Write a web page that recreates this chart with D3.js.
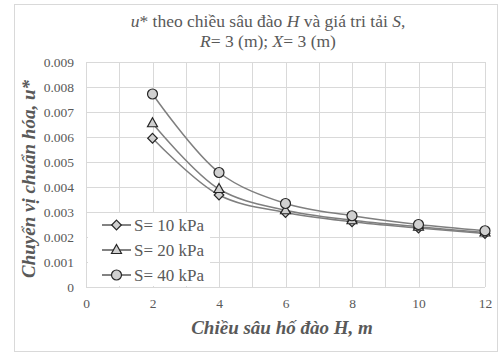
<!DOCTYPE html>
<html>
<head>
<meta charset="utf-8">
<script src="https://cdn.jsdelivr.net/npm/d3@7/dist/d3.min.js"></script>
</head>
<body style="margin:0;padding:0;background:#fff">
<svg id="chart" width="500" height="361" style="display:block"></svg>
<script>
// Excavation depth H (m)
const depths = [2, 4, 6, 8, 10, 12];
// Normalised displacement u* for each surcharge S
const s10 = [0.00595, 0.00368, 0.00298, 0.00261, 0.00236, 0.00214];
const s20 = [0.00655, 0.00392, 0.00307, 0.00267, 0.00241, 0.00218];
const s40 = [0.00772, 0.00458, 0.00334, 0.00285, 0.00250, 0.00225];
const seriesNames = ["S= 10 kPa", "S= 20 kPa", "S= 40 kPa"];
const seriesMarkers = ["diamond", "triangle", "circle"];
const xTicks = [0, 2, 4, 6, 8, 10, 12];
const yTicks = [0, 0.001, 0.002, 0.003, 0.004, 0.005, 0.006, 0.007, 0.008, 0.009];

const FONT = '"Liberation Serif", "Times New Roman"';

const series = [s10, s20, s40].map((vals, i) => ({
  name: seriesNames[i],
  marker: seriesMarkers[i],
  points: depths.map((d, j) => ({ x: d, y: vals[j] }))
}));

const svg = d3.select("#chart");
const plot = { left: 86, right: 485, top: 62, bottom: 287 };

const x = d3.scaleLinear().domain([0, 12]).range([plot.left, plot.right]);
const y = d3.scaleLinear().domain([0, 0.009]).range([plot.bottom, plot.top]);

const textGray = "#595959";
const gridGray = "#d9d9d9";

// Chart area frame
svg.append("rect")
  .attr("x", 14.5).attr("y", 4.5)
  .attr("width", 483).attr("height", 347)
  .attr("fill", "#fff").attr("stroke", "#d9d9d9").attr("stroke-width", 1);

// Gridlines: vertical every 1 m, horizontal at each y tick
const g = svg.append("g");
g.selectAll("line.vg")
  .data(d3.range(0, 13))
  .join("line")
  .attr("x1", d => Math.round(x(d)) + 0.5).attr("x2", d => Math.round(x(d)) + 0.5)
  .attr("y1", plot.top).attr("y2", plot.bottom)
  .attr("stroke", gridGray).attr("stroke-width", 1);
g.selectAll("line.hg")
  .data(yTicks)
  .join("line")
  .attr("x1", plot.left).attr("x2", plot.right)
  .attr("y1", d => Math.round(y(d)) + 0.5).attr("y2", d => Math.round(y(d)) + 0.5)
  .attr("stroke", gridGray).attr("stroke-width", 1);

// Axes (labels only)
const xAxis = d3.axisBottom(x).tickValues(xTicks).tickSize(0).tickPadding(11);
const yAxis = d3.axisLeft(y).tickValues(yTicks).tickSize(0).tickPadding(10)
  .tickFormat(d => d === 0 ? "0" : d3.format(".3f")(d));

const gx = svg.append("g").attr("transform", `translate(0,${plot.bottom})`).call(xAxis);
const gy = svg.append("g").attr("transform", `translate(${plot.left - 2},0)`).call(yAxis);
[gx, gy].forEach(a => {
  a.attr("font-family", null).attr("font-size", null);
  a.select(".domain").remove();
  a.selectAll("text")
    .attr("fill", textGray)
    .attr("font-size", 13.5)
    .style("font-family", FONT);
});

// Series lines
const line = d3.line()
  .x(d => x(d.x)).y(d => y(d.y))
  .curve(d3.curveCatmullRom.alpha(0.5));

svg.append("g").selectAll("path")
  .data(series)
  .join("path")
  .attr("d", d => line(d.points))
  .attr("fill", "none")
  .attr("stroke", "#7f7f7f")
  .attr("stroke-width", 1.5);

// Marker shapes
function markerPath(type) {
  if (type === "circle") return d3.symbol(d3.symbolCircle, 78)();
  if (type === "triangle") return "M0,-5.5L5,3.5L-5,3.5Z";
  return "M0,-4.8L4.8,0L0,4.8L-4.8,0Z";
}

function drawMarker(sel, type) {
  sel.append("path")
    .attr("d", markerPath(type))
    .attr("fill", "#d0d0d0")
    .attr("stroke", "#262626")
    .attr("stroke-width", 1.2);
}

series.forEach(s => {
  const mg = svg.append("g");
  s.points.forEach(p => {
    const m = mg.append("g").attr("transform", `translate(${x(p.x)},${y(p.y)})`);
    drawMarker(m, s.marker);
  });
});

// Legend (white box inside plot, bottom-left)
const legend = svg.append("g");
legend.append("rect")
  .attr("x", 88).attr("y", 213)
  .attr("width", 122).attr("height", 73)
  .attr("fill", "#fff");

series.forEach((s, i) => {
  const ly = 225 + i * 25;
  const item = legend.append("g");
  item.append("line")
    .attr("x1", 102).attr("x2", 131)
    .attr("y1", ly).attr("y2", ly)
    .attr("stroke", "#595959").attr("stroke-width", 1.5);
  const m = item.append("g").attr("transform", `translate(116.5,${ly})`);
  drawMarker(m, s.marker);
  item.append("text")
    .attr("x", 134).attr("y", ly + 5.5)
    .attr("fill", textGray)
    .attr("font-size", 17)
    .style("font-family", FONT)
    .text(s.name);
});

// Title
const title = svg.append("text")
  .attr("text-anchor", "middle")
  .attr("fill", textGray)
  .attr("font-size", 17.5)
  .style("font-family", FONT);
const t1 = title.append("tspan").attr("x", 268).attr("y", 27);
t1.append("tspan").style("font-style", "italic").text("u");
t1.append("tspan").text("* theo chiều sâu đào ");
t1.append("tspan").style("font-style", "italic").text("H");
t1.append("tspan").text(" và giá tri tải ");
t1.append("tspan").style("font-style", "italic").text("S");
t1.append("tspan").text(",");
const t2 = title.append("tspan").attr("x", 268).attr("y", 47);
t2.append("tspan").style("font-style", "italic").text("R");
t2.append("tspan").text("= 3 (m); ");
t2.append("tspan").style("font-style", "italic").text("X");
t2.append("tspan").text("= 3 (m)");

// Axis titles
svg.append("text")
  .attr("x", 282).attr("y", 334)
  .attr("text-anchor", "middle")
  .attr("fill", textGray)
  .attr("font-size", 19)
  .style("font-family", FONT)
  .style("font-weight", "bold")
  .style("font-style", "italic")
  .text("Chiều sâu hố đào H, m");

svg.append("text")
  .attr("transform", "translate(35,179) rotate(-90)")
  .attr("text-anchor", "middle")
  .attr("fill", textGray)
  .attr("font-size", 19)
  .style("font-family", FONT)
  .style("font-weight", "bold")
  .style("font-style", "italic")
  .text("Chuyển vị chuẩn hóa, u*");
</script>
</body>
</html>
